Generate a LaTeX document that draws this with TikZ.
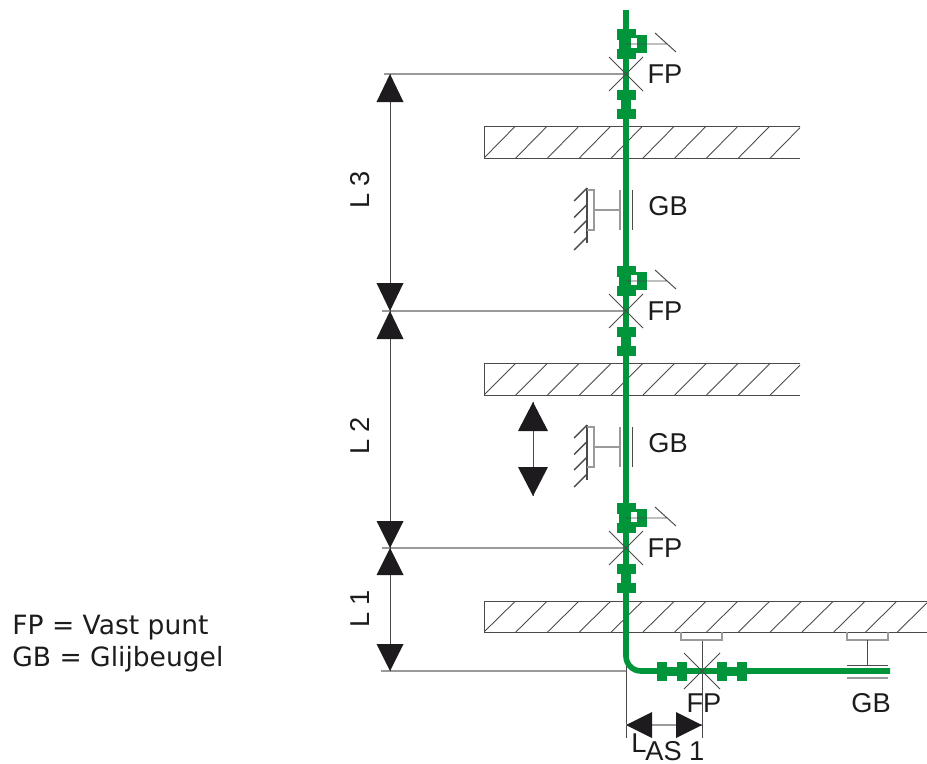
\documentclass[tikz,border=0pt]{standalone}
\usepackage{fontspec}
\setmainfont{Liberation Sans}
\newfontfamily\legendfont{DejaVu Sans}
\definecolor{pipegreen}{HTML}{00953B}
\definecolor{inkdark}{HTML}{1D1B1E}
\definecolor{linedark}{HTML}{4A4A4A}
\definecolor{linegrey}{HTML}{9A9A9A}
\tikzset{
  thinline/.style={draw=linedark,line width=0.55pt},
  wallline/.style={draw=linedark,line width=0.8pt},
  greyline/.style={draw=linegrey,line width=0.65pt},
  hatchline/.style={draw=linedark,line width=0.5pt},
  pipeline/.style={draw=pipegreen,line width=3.2pt},
  blockfill/.style={fill=pipegreen,draw=none},
  headfill/.style={fill=inkdark,draw=none},
  lbl/.style={inner sep=0pt,text=inkdark,font=\fontsize{15.5}{15.5}\selectfont},
  legend/.style={inner sep=0pt,anchor=base west,text=inkdark,font=\legendfont\fontsize{15.1}{15.1}\selectfont},
  pics/coupleH/.style={code={
    \fill[blockfill] (-5,-9.5) rectangle (5,9.5);
  }},
  pics/fixgroup/.style={code={
    \fill[blockfill] (-9.5,-45) rectangle (9.5,-34);
    \fill[blockfill] (-7,-34) rectangle (8,-25);
    \fill[blockfill] (-9.5,-25) rectangle (9.5,-15);
    \fill[blockfill] (2,-39) rectangle (21,-21);
    \fill[white] (5,-36) rectangle (11,-26);
    \draw[thinline] (0,-30) -- (41,-30) (29,-41) -- (50,-22);
    \draw[thinline] (-17,-17) -- (17,17) (-17,17) -- (17,-17);
    \fill[blockfill] (-9.5,16) rectangle (9.5,26);
    \fill[blockfill] (-5,26) rectangle (5,35);
    \fill[blockfill] (-9.5,35) rectangle (9.5,45);
    \node[lbl] at (39,0) {FP};
  }},
  pics/wallguide/.style={code={
    \draw[wallline] (-39,-22) -- (-39,33);
    \foreach \yy in {-22,-5.5,10,27} \draw[wallline] (-39,\yy) -- (-52,\yy+13);
    \draw[greyline] (-39,-20) -- (-32,-20) -- (-32,20) -- (-39,20);
    \draw[greyline] (-32,0) -- (-6,0);
    \draw[greyline,line width=1pt] (-6,-20) -- (-6,20);
    \draw[thinline] (6,-20) -- (6,20);
    \node[lbl] at (42,-4) {GB};
  }},
}
\newcommand{\slabbox}[4]{% x1, y1, x2, y2
  \draw[hatchline] (#3,#2) -- (#1,#2) -- (#1,#4) -- (#3,#4);
  \begin{scope}
    \clip (#1,#2) rectangle (#3,#4);
    \foreach \k in {0,...,14} \draw[hatchline] ({#1+\k*31.8},#4) -- ({#1+\k*31.8+31.5},#2);
  \end{scope}
}
\begin{document}
\begin{tikzpicture}[x=0.02cm,y=-0.02cm]
\useasboundingbox (0,0) rectangle (927,764);

% slabs
\slabbox{484}{126}{800}{158}
\slabbox{484}{363.5}{800}{395}
\slabbox{484}{601}{927}{632}

% named reference points
\coordinate (fp3) at (626,74);
\coordinate (fp2) at (626,311);
\coordinate (fp1) at (626,548);
\coordinate (fph) at (702,671);
\coordinate (dimtop) at (390,74);
\coordinate (dim2) at (390,311);
\coordinate (dim1) at (390,548);
\coordinate (dim0) at (390,671);
\coordinate (pipetop) at (626,10);
\coordinate (pipeend) at (890,671);
\coordinate (bend) at (626,671);
\coordinate (dimleft) at (381,671);
\coordinate (astop) at (626,658);
\coordinate (asbot) at (626,738);
\coordinate (fpbot) at (702,738);
\coordinate (arrowA) at (533,402);
\coordinate (arrowB) at (533,496);

% extension lines
\draw[greyline] (dimtop) ++(-6,0) -- (fp3);
\draw[greyline] (dim2) ++(-8,0) -- (fp2);
\draw[greyline] (dim1) ++(-8,0) -- (fp1);
\draw[greyline] (dimleft) -- (bend);
\draw[thinline] (astop) -- (asbot);
\draw[thinline] (fph) ++(0,-31) -- (fpbot);

% pipe
\draw[pipeline,rounded corners=8.5pt] (pipetop) -- (bend) -- (pipeend);

% fixed-point groups on the riser
\pic at (fp3) {fixgroup};
\pic at (fp2) {fixgroup};
\pic at (fp1) {fixgroup};

% guides on the wall
\pic at (626,210) {wallguide};
\pic at (626,447) {wallguide};

% horizontal run
\pic at (662,671.5) {coupleH};
\pic at (682,671.5) {coupleH};
\pic at (722,671.5) {coupleH};
\pic at (742,671.5) {coupleH};
\fill[blockfill] (662,667) rectangle (682,676);
\fill[blockfill] (722,667) rectangle (742,676);
\draw[thinline] (fph) ++(-18,-18) -- ++(36,36) (fph) ++(-18,18) -- ++(36,-36);
\draw[greyline] (681,632) -- (681,640) -- (722,640) -- (722,632);
\draw[greyline] (847,632) -- (847,640) -- (888,640) -- (888,632);
\draw[thinline] (867,640) -- (867,665);
\draw[thinline] (847,665) -- (888,665);
\draw[greyline,line width=1pt] (847,678) -- (888,678);
\node[lbl] (lfph) at (704,703) {FP};
\node[lbl] (lgbh) at (871,703) {GB};

% dimension line L1-L3
\draw[thinline] (dimtop) -- (dim0);
\fill[headfill] (dimtop) -- ++(-13.5,28) -- ++(27,0) -- cycle;
\fill[headfill] (dim2) -- ++(-13.5,-28) -- ++(27,0) -- cycle;
\fill[headfill] (dim2) -- ++(-13.5,28) -- ++(27,0) -- cycle;
\fill[headfill] (dim1) -- ++(-13.5,-27) -- ++(27,0) -- cycle;
\fill[headfill] (dim1) -- ++(-13.5,27) -- ++(27,0) -- cycle;
\fill[headfill] (dim0) -- ++(-13.5,-27) -- ++(27,0) -- cycle;
\node[lbl,rotate=90] (l3) at (360,190) {L 3};
\node[lbl,rotate=90] (l2) at (360,436) {L 2};
\node[lbl,rotate=90] (l1) at (360,609) {L 1};

% movement arrow
\draw[thinline] (arrowA) -- (arrowB);
\fill[headfill] (arrowA) -- ++(-15,29) -- ++(30,0) -- cycle;
\fill[headfill] (arrowB) -- ++(-15,-29) -- ++(30,0) -- cycle;

% L_AS 1 dimension
\coordinate (asL) at (626,725);
\coordinate (asR) at (702,725);
\draw[greyline] (asL) -- (asR);
\fill[headfill] (asL) -- ++(26,-13) -- ++(0,26) -- cycle;
\fill[headfill] (asR) -- ++(-26,-13) -- ++(0,26) -- cycle;
\node[lbl,anchor=base west] (las) at (631,752) {L};
\node[lbl,anchor=base west] (asub) at (645,760) {AS 1};

% legend
\node[legend] (leg1) at (12,634) {FP = Vast punt};
\node[legend] (leg2) at (12,666) {GB = Glijbeugel};
\end{tikzpicture}
\end{document}
